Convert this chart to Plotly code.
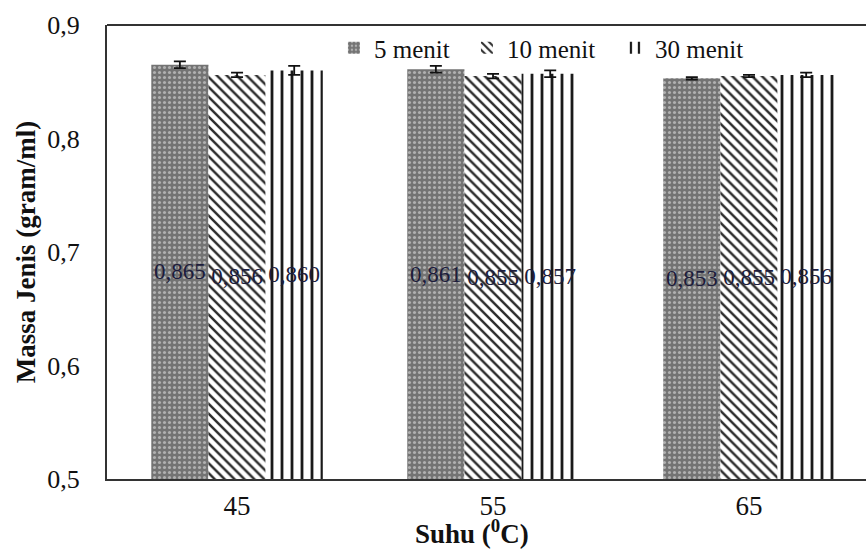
import plotly.graph_objects as go

categories = ["45", "55", "65"]
series_names = ["5 menit", "10 menit", "30 menit"]
values_5 = [0.865, 0.861, 0.853]
values_10 = [0.856, 0.855, 0.855]
values_30 = [0.860, 0.857, 0.856]
err_5 = [0.003, 0.003, 0.001]
err_10 = [0.002, 0.002, 0.001]
err_30 = [0.004, 0.003, 0.002]
y_ticks = [0.5, 0.6, 0.7, 0.8, 0.9]
y_tick_labels = ["0,5", "0,6", "0,7", "0,8", "0,9"]
y_min = 0.5

serif = "Liberation Serif, Times New Roman, serif"

patterns = [
    dict(shape=".", bgcolor="#737373", fgcolor="#b0b0b0", size=5, solidity=0.3, fillmode="replace"),
    dict(shape="\\", bgcolor="#ffffff", fgcolor="#2a2a2a", size=7, solidity=0.35, fillmode="replace"),
    dict(shape="|", bgcolor="#ffffff", fgcolor="#1a1a1a", size=10, solidity=0.28, fillmode="replace"),
]
legend_widths = [88, 103, None]

fig = go.Figure()
for name, vals, errs, pat, lw in zip(series_names, [values_5, values_10, values_30],
                                     [err_5, err_10, err_30], patterns, legend_widths):
    fig.add_trace(go.Bar(
        x=categories, y=[v - y_min for v in vals], base=y_min, name=name,
        marker=dict(color=pat["bgcolor"], pattern=pat, line=dict(width=0)),
        error_y=dict(type="data", array=errs, visible=True, color="#111111", thickness=1.8, width=6),
        text=[f"{v:.3f}".replace(".", ",") for v in vals],
        textposition="inside", insidetextanchor="middle", textangle=0,
        constraintext="none", cliponaxis=False,
        textfont=dict(family=serif, size=23, color="#1c1c3c"),
        legendwidth=lw,
    ))

fig.update_layout(
    width=866, height=550,
    margin=dict(l=107, r=0, t=25, b=71),
    plot_bgcolor="white", paper_bgcolor="white",
    barmode="group", bargap=0.33, bargroupgap=0,
    showlegend=True,
    legend=dict(orientation="h", x=0.299, y=1.0, xanchor="left", yanchor="top",
                font=dict(family=serif, size=25, color="#111111"),
                bgcolor="rgba(0,0,0,0)", itemwidth=30),
    xaxis=dict(type="category", range=[-0.508, 2.457], showline=True, linecolor="#333333",
               linewidth=2, ticks="", tickfont=dict(family=serif, size=27, color="#111111"),
               ticklabelstandoff=2),
    yaxis=dict(range=[0.5, 0.9], tickvals=y_ticks, ticktext=y_tick_labels, showline=True,
               linecolor="#333333", linewidth=2, showgrid=False, ticks="", zeroline=False,
               tickfont=dict(family=serif, size=26, color="#111111"),
               ticklabelstandoff=20,
               title=dict(text="<b>Massa Jenis (gram/ml)</b>", font=dict(family=serif, size=27, color="#111111"),
                          standoff=4)),
    shapes=[dict(type="line", xref="paper", yref="paper", x0=0, x1=1, y0=1, y1=1,
                 line=dict(color="#333333", width=2))],
    annotations=[dict(text="<b>Suhu (<sup>0</sup>C)</b>", xref="paper", yref="paper",
                      x=0.481, y=-0.117, xanchor="center", yanchor="middle", showarrow=False,
                      font=dict(family=serif, size=27, color="#111111"))],
)

fig.write_html("out.html", config={"displayModeBar": False},
               post_script="document.body.style.margin='0';document.body.style.overflow='hidden';")
